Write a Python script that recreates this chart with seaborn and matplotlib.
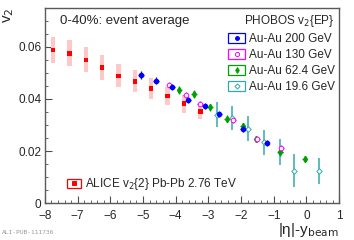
import matplotlib
matplotlib.use("Agg")
import matplotlib.pyplot as plt
import numpy as np
import pandas as pd
import seaborn as sns
from matplotlib.lines import Line2D
from matplotlib.patches import Rectangle
from matplotlib.legend_handler import HandlerBase
from matplotlib.ticker import MultipleLocator, FuncFormatter

# ALICE v2{2} Pb-Pb 2.76 TeV
alice_x = [-7.75, -7.25, -6.75, -6.25, -5.75, -5.25, -4.75, -4.25, -3.75, -3.25]
alice_v2 = [0.0589, 0.0575, 0.0550, 0.0521, 0.0489, 0.0468, 0.0441, 0.0411, 0.0382, 0.0353]
alice_sys = [0.0050, 0.0050, 0.0048, 0.0047, 0.0044, 0.0043, 0.0040, 0.0036, 0.0035, 0.0030]

# PHOBOS v2{EP}
au200_x = [-5.06, -4.60, -4.11, -3.61, -3.11, -2.67, -1.95, -1.22]
au200_v2 = [0.0493, 0.0471, 0.0445, 0.0397, 0.0373, 0.0343, 0.0285, 0.0231]
au200_err = [0.0015, 0.0013, 0.0012, 0.0012, 0.0011, 0.0011, 0.0011, 0.0012]

au130_x = [-4.19, -3.69, -3.26, -2.24, -1.50, -0.77]
au130_v2 = [0.0455, 0.0415, 0.0382, 0.0318, 0.0245, 0.0212]
au130_err = [0.0010, 0.0010, 0.0010, 0.0010, 0.0010, 0.0010]

au62_x = [-3.89, -3.44, -2.95, -2.44, -1.95, -1.53, -0.80, -0.05]
au62_v2 = [0.0434, 0.0420, 0.0368, 0.0324, 0.0295, 0.0246, 0.0195, 0.0170]
au62_err = [0.0015, 0.0015, 0.0013, 0.0013, 0.0012, 0.0012, 0.0015, 0.0010]

au19_x = [-2.75, -2.29, -1.78, -1.29, -0.80, -0.38, 0.37]
au19_v2 = [0.0340, 0.0327, 0.0286, 0.0233, 0.0198, 0.0124, 0.0124]
au19_err = [0.0048, 0.0045, 0.0048, 0.0047, 0.0050, 0.0063, 0.0050]

alice = pd.DataFrame({"x": alice_x, "v2": alice_v2, "sys": alice_sys})

sns.set_style("ticks")
plt.rcParams["font.family"] = ["Liberation Sans", "DejaVu Sans"]

fig = plt.figure(figsize=(3.54, 2.40), dpi=100)
ax = fig.add_axes([0.127, 0.154, 0.831, 0.813])

# systematic bands
ax.bar(alice["x"], 2 * alice["sys"], bottom=alice["v2"] - alice["sys"],
       width=0.13, color="#ffc8c8", linewidth=0, zorder=1)
sns.scatterplot(data=alice, x="x", y="v2", marker="s", s=11, color="#ff0000",
                edgecolor="none", ax=ax, zorder=5, legend=False)

c200 = "#0000ff"
c130 = "#ff00ff"
c62 = "#00a000"
c19 = "#33aaaa"

ax.errorbar(au19_x, au19_v2, yerr=au19_err, fmt="D", ms=2.8, mfc="white", mec=c19,
            mew=0.7, ecolor=c19, elinewidth=1.1, capsize=0, zorder=3)
ax.errorbar(au62_x, au62_v2, yerr=au62_err, xerr=0.08, fmt="d", ms=3.2, mfc=c62, mec=c62,
            ecolor=c62, elinewidth=0.9, capsize=0, zorder=4)
ax.errorbar(au130_x, au130_v2, yerr=au130_err, xerr=0.08, fmt="o", ms=3.3, mfc="white", mec=c130,
            mew=0.7, ecolor=c130, elinewidth=0.9, capsize=0, zorder=4)
ax.errorbar(au200_x, au200_v2, yerr=au200_err, xerr=0.08, fmt="o", ms=3.0, mfc=c200, mec=c200,
            ecolor=c200, elinewidth=0.9, capsize=0, zorder=6)

ax.set_xlim(-8, 1)
ax.set_ylim(0, 0.075)
ax.xaxis.set_major_locator(MultipleLocator(1))
ax.xaxis.set_minor_locator(MultipleLocator(0.2))
ax.yaxis.set_major_locator(MultipleLocator(0.02))
ax.yaxis.set_minor_locator(MultipleLocator(0.005))
ax.yaxis.set_major_formatter(FuncFormatter(lambda v, p: "0" if abs(v) < 1e-9 else "%.2f" % v))
ax.tick_params(which="both", direction="in", labelsize=8.5, color="0.3")
ax.tick_params(axis="x", pad=5)
ax.tick_params(axis="y", pad=2.5)
ax.tick_params(which="major", length=5)
ax.tick_params(which="minor", length=2.5)
for s in ax.spines.values():
    s.set_color("0.35")
    s.set_linewidth(1.0)

ax.set_xlabel("|η|-y$_{\\mathrm{beam}}$", loc="right", fontsize=11, labelpad=-1)
ax.set_ylabel("v$_2$", loc="top", fontsize=11, labelpad=1.5)

ax.text(0.051, 0.935, "0-40%: event average", transform=ax.transAxes, fontsize=9.5,
        va="center", ha="left")


class BoxHandler(HandlerBase):
    def create_artists(self, legend, orig_handle, xdescent, ydescent, width, height, fontsize, trans):
        r = Rectangle((-xdescent, -ydescent), width, height, facecolor="white",
                      edgecolor=orig_handle.get_markeredgecolor(), lw=0.9, transform=trans)
        m = Line2D([width / 2 - xdescent], [height / 2 - ydescent], marker=orig_handle.get_marker(),
                   ms=orig_handle.get_markersize(), mfc=orig_handle.get_markerfacecolor(),
                   mec=orig_handle.get_markeredgecolor(), mew=0.7, ls="none", transform=trans)
        return [r, m]


h200 = Line2D([], [], marker="o", ms=2.8, mfc=c200, mec=c200, ls="none")
h130 = Line2D([], [], marker="o", ms=3.0, mfc="white", mec=c130, ls="none")
h62 = Line2D([], [], marker="d", ms=3.0, mfc=c62, mec=c62, ls="none")
h19 = Line2D([], [], marker="D", ms=2.6, mfc="white", mec=c19, ls="none")
halice = Line2D([], [], marker="s", ms=3.0, mfc="#ff0000", mec="#ff0000", ls="none")

leg1 = ax.legend([h200, h130, h62, h19],
                 ["Au-Au 200 GeV", "Au-Au 130 GeV", "Au-Au 62.4 GeV", "Au-Au 19.6 GeV"],
                 handler_map={Line2D: BoxHandler()}, title="PHOBOS v$_2${EP}",
                 loc="upper right", bbox_to_anchor=(0.985, 0.975), frameon=False,
                 fontsize=8.5, title_fontsize=8.5, borderpad=0, borderaxespad=0,
                 handlelength=1.45, handleheight=0.95, handletextpad=0.3, labelspacing=0.33)
leg1._legend_box.align = "right"
ax.add_artist(leg1)

ax.legend([halice], ["ALICE v$_2${2} Pb-Pb 2.76 TeV"], handler_map={Line2D: BoxHandler()},
          loc="lower left", bbox_to_anchor=(0.074, 0.055), frameon=False, fontsize=8.5,
          borderpad=0, borderaxespad=0, handlelength=1.2, handleheight=0.85, handletextpad=0.35)

fig.text(0.005, 0.025, "ALI-PUB-111736", fontsize=4.5, color="0.6", family="DejaVu Sans Mono")

fig.savefig("out.png", dpi=100)
